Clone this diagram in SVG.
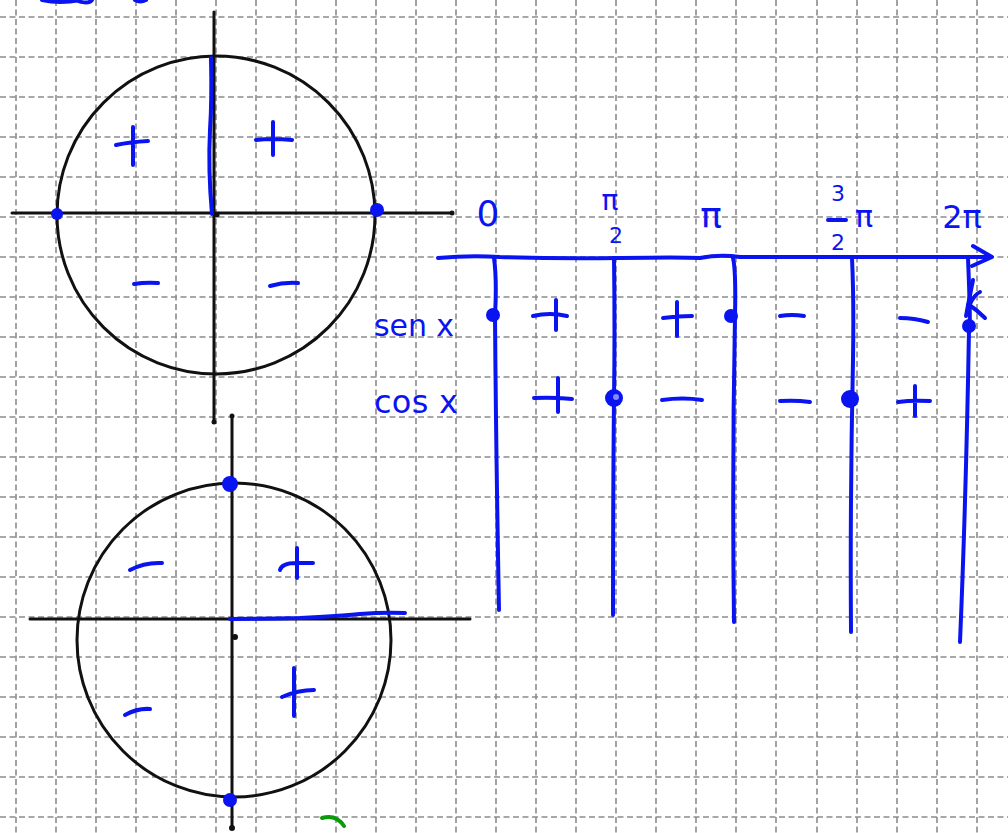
<svg xmlns="http://www.w3.org/2000/svg" width="1008" height="833" viewBox="0 0 1008 833">
<style>
.g{stroke:#8c8c8c;stroke-width:1.6;stroke-dasharray:6 3.5;fill:none}
.k{stroke:#111;stroke-width:3;fill:none;stroke-linecap:round}
.b{stroke:#0a14f0;stroke-width:4;fill:none;stroke-linecap:round;stroke-linejoin:round}
.d{fill:#0a14f0}
.t{fill:#0a14f0;font-family:"DejaVu Sans","Liberation Sans",sans-serif}
</style>
<rect width="1008" height="833" fill="#fff"/>
<g id="grid">
<path class="g" d="M16 0V833M56 0V833M96 0V833M136 0V833M176 0V833M216 0V833M256 0V833M296 0V833M336 0V833M376 0V833M416 0V833M456 0V833M496 0V833M536 0V833M576 0V833M616 0V833M656 0V833M696 0V833M736 0V833M776 0V833M817 0V833M857 0V833M897 0V833M937 0V833M977 0V833"/>
<path class="g" d="M0 17H1008M0 57H1008M0 97H1008M0 137H1008M0 177H1008M0 217H1008M0 257H1008M0 297H1008M0 337H1008M0 377H1008M0 417H1008M0 457H1008M0 497H1008M0 537H1008M0 577H1008M0 617H1008M0 657H1008M0 697H1008M0 737H1008M0 777H1008M0 817H1008"/>
</g>
<g id="top-scribble">
<path class="b" d="M42 0 Q60 4 80 0M75 0 Q88 5 92 0M135 0 Q140 3 146 0"/>
</g>
<g id="circle-top">
<circle class="k" cx="216" cy="215" r="159"/>
<path class="k" d="M214 12V420M12 213H452"/>
<circle cx="214" cy="422" r="2.5" fill="#111"/>
<circle cx="452" cy="213" r="2.5" fill="#111"/>
<circle cx="217" cy="215" r="2.5" fill="#111"/>
<path class="b" d="M211 58 Q212 100 210 130 Q208 170 212 214"/>
<circle class="d" cx="57" cy="214" r="6"/>
<circle class="d" cx="377" cy="210" r="7"/>
<path class="b" d="M116 145 Q130 142 148 141M133 127V165"/>
<path class="b" d="M256 140 Q272 138 292 140M273 122V155"/>
<path class="b" d="M134 284 Q146 282 158 283"/>
<path class="b" d="M270 286 Q284 282 298 283"/>
</g>
<g id="circle-bottom">
<circle class="k" cx="234" cy="640" r="157"/>
<path class="k" d="M232 416V828M30 619H470"/>
<circle cx="235" cy="637" r="3" fill="#111"/>
<circle cx="232" cy="828" r="3" fill="#111"/>
<circle cx="232" cy="416" r="2.5" fill="#111"/>
<path class="b" d="M230 619 Q262 619 300 618 Q340 616 360 614 Q385 612 405 613"/>
<circle class="d" cx="230" cy="484" r="8"/>
<circle class="d" cx="230" cy="800" r="7"/>
<path class="b" d="M130 570 Q145 562 162 563"/>
<path class="b" d="M280 570 Q282 562 300 563 Q308 563 313 563M297 548V578"/>
<path class="b" d="M125 715 Q138 708 150 709"/>
<path class="b" d="M282 697 Q298 690 314 690M294 668V716"/>
<path d="M322 818 Q336 814 344 826" stroke="#0a9a0a" stroke-width="4" fill="none" stroke-linecap="round"/>
</g>
<g id="table">
<path class="b" d="M438 258 Q470 255 500 257 Q560 259 620 258 Q680 257 700 258 Q720 254 740 257 L990 257"/>
<path class="b" d="M973 246 L992 257 L972 266"/>
<path class="b" d="M494 258 Q497 280 495 316 Q496 450 499 610"/>
<path class="b" d="M614 258 Q615 330 614 400 Q613 500 613 615"/>
<path class="b" d="M733 258 Q736 270 735 316 Q732 470 734 622"/>
<path class="b" d="M852 258 Q854 300 853 360 Q850 500 851 632"/>
<path class="b" d="M968 258 Q971 330 969 330 Q966 500 960 642"/>
<path class="b" d="M973 280 Q969 300 966 316M970 304 Q975 294 980 292M968 304 Q977 310 985 318"/>
<circle class="d" cx="493" cy="315" r="7"/>
<circle class="d" cx="731" cy="316" r="7"/>
<circle class="d" cx="969" cy="326" r="7"/>
<circle class="d" cx="614" cy="398" r="9"/>
<circle cx="616" cy="397" r="3" fill="#fff" opacity="0.5"/>
<circle class="d" cx="850" cy="399" r="9"/>
<text class="t" x="488" y="226" font-size="36" text-anchor="middle">0</text>
<text class="t" x="610" y="210" font-size="28" text-anchor="middle">π</text>
<text class="t" x="616" y="243" font-size="22" text-anchor="middle">2</text>
<text class="t" x="711" y="228" font-size="36" text-anchor="middle">π</text>
<text class="t" x="838" y="201" font-size="22" text-anchor="middle">3</text>
<path class="b" d="M828 220 H846"/>
<text class="t" x="838" y="250" font-size="22" text-anchor="middle">2</text>
<text class="t" x="864" y="227" font-size="30" text-anchor="middle">π</text>
<text class="t" x="962" y="228" font-size="32" text-anchor="middle">2π</text>
<text class="t" x="374" y="336" font-size="30" textLength="80">sen x</text>
<text class="t" x="374" y="413" font-size="32" textLength="84">cos x</text>
<path class="b" d="M533 316 Q550 312 567 316M556 300V330"/>
<path class="b" d="M663 318 Q678 316 692 316M677 302V336"/>
<path class="b" d="M780 316 Q792 314 804 316"/>
<path class="b" d="M900 318 Q914 318 928 322"/>
<path class="b" d="M534 398 Q552 397 572 399M558 378V412"/>
<path class="b" d="M662 400 Q683 397 702 400"/>
<path class="b" d="M780 401 Q796 400 810 402"/>
<path class="b" d="M898 402 Q912 400 930 401M915 386V416"/>
</g>
</svg>
